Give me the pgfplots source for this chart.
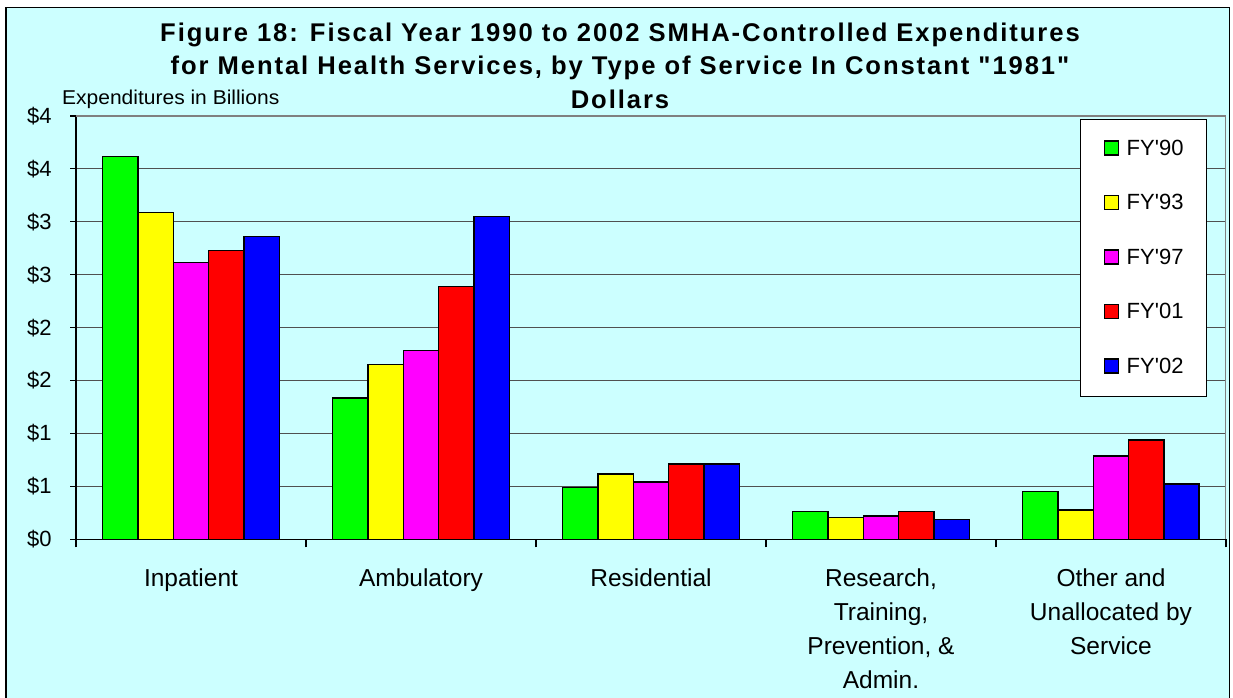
\documentclass[border=0pt]{standalone}
\usepackage{fontspec}
\setmainfont{Liberation Sans}
\newfontfamily\titlefont[LetterSpace=7.5]{Liberation Sans}
\newfontfamily\ylabfont[FakeStretch=1.05]{Liberation Sans}
\usepackage{pgfplots}
\usepackage{pgfplotstable}
\pgfplotsset{compat=1.18}
\definecolor{bg}{HTML}{CCFFFF}
\definecolor{gridc}{HTML}{505050}
\definecolor{cA}{HTML}{00FF00}
\definecolor{cB}{HTML}{FFFF00}
\definecolor{cC}{HTML}{FF00FF}
\definecolor{cD}{HTML}{FF0000}
\definecolor{cE}{HTML}{0000FF}
\pgfplotstableread{
x fy90 fy93 fy97 fy01 fy02
0 3.616 3.087 2.614 2.728 2.860
1 1.333 1.654 1.786 2.391 3.049
2 0.488 0.617 0.542 0.712 0.712
3 0.261 0.204 0.220 0.261 0.185
4 0.450 0.277 0.787 0.939 0.523
}\datatable
\pgfplotsset{LB/.style={legend image code/.code={\draw[##1, draw=black, line width=1.2pt] (0pt,0pt) rectangle (14pt,14pt);}}}
\begin{document}
\begin{tikzpicture}[x=1pt,y=1pt]
\useasboundingbox (0,0) rectangle (1233,698);
\fill[white] (0,0) rectangle (1233,698);
\filldraw[fill=bg, draw=black, line width=1.5pt] (6,-5) rectangle (1229.5,690.5);
\node[anchor=base, inner sep=0pt, font=\titlefont\bfseries\fontsize{25.6}{30}\selectfont] at (620,656.3) {Figure 18: Fiscal Year 1990 to 2002 SMHA-Controlled Expenditures};
\node[anchor=base, inner sep=0pt, font=\titlefont\bfseries\fontsize{25.6}{30}\selectfont] at (620,623) {for Mental Health Services, by Type of Service In Constant "1981"};
\node[anchor=base, inner sep=0pt, font=\titlefont\bfseries\fontsize{25.6}{30}\selectfont] at (620,589.7) {Dollars};
\node[anchor=base west, inner sep=0pt, font=\ylabfont\fontsize{20}{24}\selectfont] at (62,593) {Expenditures in Billions};
\begin{axis}[
  at={(76pt,158.7pt)}, anchor=south west,
  scale only axis, width=1150pt, height=423.3pt,
  xmin=-0.5, xmax=4.5, ymin=0, ymax=4,
  axis lines=left, axis line style={-, black, line width=1.2pt},
  ybar=0pt, bar width=35.3pt,
  xtick={0,1,2,3,4},
  xticklabels={Inpatient, Ambulatory, Residential, {Research,\\Training,\\Prevention, \&\\Admin.}, {Other and\\Unallocated by\\Service}},
  major x tick style={draw=none},
  minor xtick={-0.5,0.5,1.5,2.5,3.5,4.5},
  minor tick length=8pt,
  major tick length=6pt,
  tick align=outside,
  tick style={black, line width=1.1pt},
  ytick={0,0.5,1,1.5,2,2.5,3,3.5,4},
  yticklabels={\$0,\$1,\$1,\$2,\$2,\$3,\$3,\$4,\$4},
  ymajorgrids, grid style={gridc, line width=1.1pt},
  yticklabel style={font=\fontsize{22}{26}\selectfont, anchor=east, inner sep=0pt, xshift=-18.3pt},
  xticklabel style={font=\fontsize{24.5}{34}\selectfont, align=center, anchor=north, inner sep=0pt, yshift=-23pt},
  legend style={at={(0.873,0.993)}, anchor=north west, draw=black, line width=1.2pt, fill=white,
    inner xsep=23pt, inner ysep=19.5pt, row sep=34.5pt, column sep=8pt,
    font=\fontsize{22}{26}\selectfont,
    nodes={inner sep=0pt, text height=16pt, text depth=4pt, anchor=base west}},
  legend cell align=left,
]
\addplot[fill=cA, draw=black, line width=1.5pt, LB] table[x=x, y=fy90] {\datatable};
\addplot[fill=cB, draw=black, line width=1.5pt, LB] table[x=x, y=fy93] {\datatable};
\addplot[fill=cC, draw=black, line width=1.5pt, LB] table[x=x, y=fy97] {\datatable};
\addplot[fill=cD, draw=black, line width=1.5pt, LB] table[x=x, y=fy01] {\datatable};
\addplot[fill=cE, draw=black, line width=1.5pt, LB] table[x=x, y=fy02] {\datatable};
\legend{FY\textquotesingle 90, FY\textquotesingle 93, FY\textquotesingle 97, FY\textquotesingle 01, FY\textquotesingle 02}
\draw[gray, line width=1.2pt] (rel axis cs:0,1) -- (rel axis cs:1,1) -- (rel axis cs:1,0);
\end{axis}
\end{tikzpicture}
\end{document}
